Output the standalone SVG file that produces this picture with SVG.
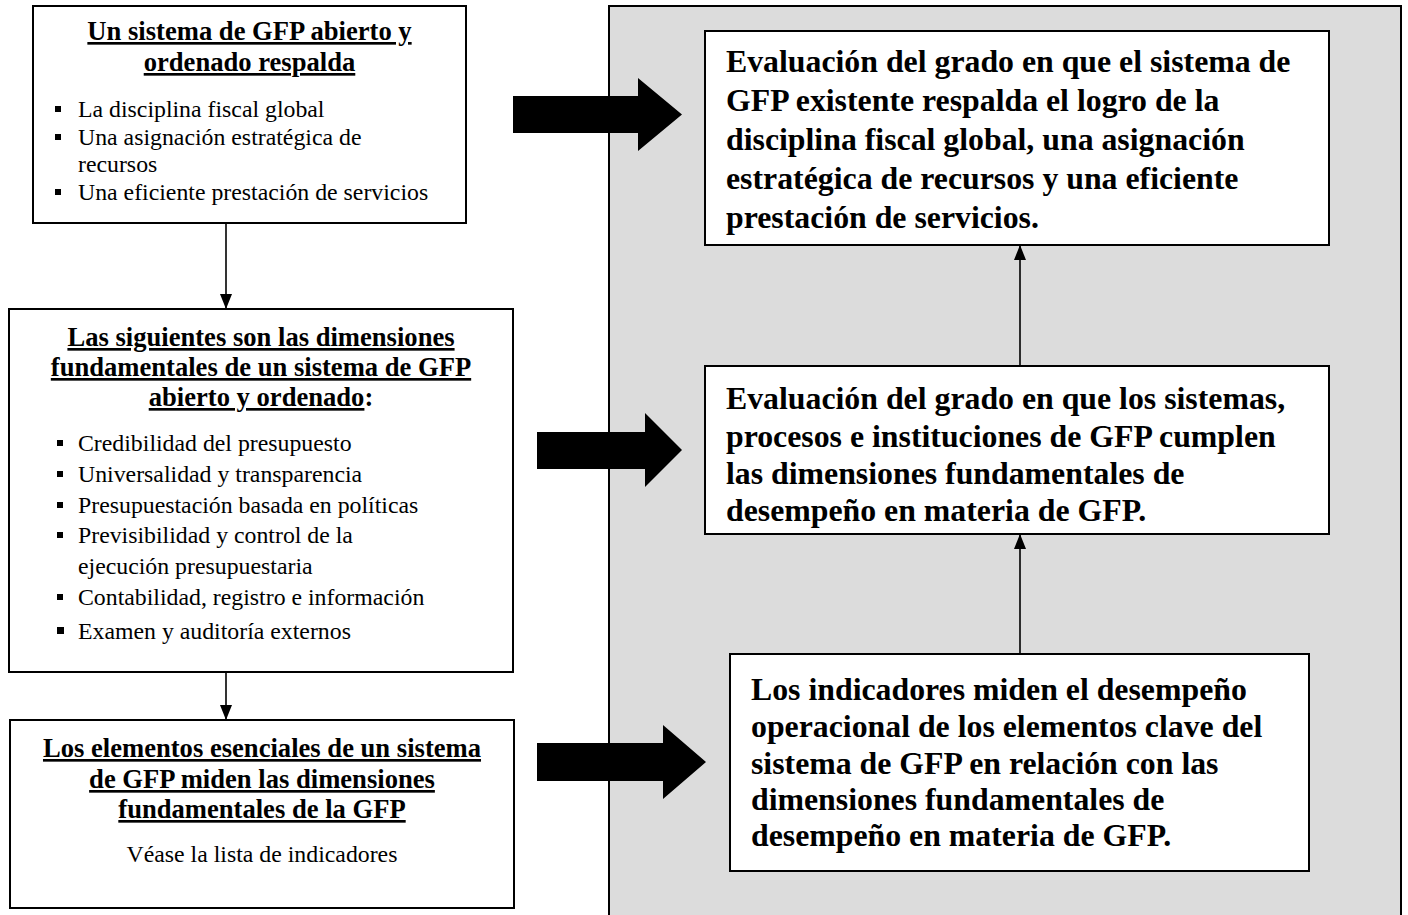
<svg xmlns="http://www.w3.org/2000/svg" width="1408" height="915" viewBox="0 0 1408 915">
<style>
.box{fill:#fff;stroke:#000;stroke-width:2}
.panel{fill:#dcdcdc;stroke:#000;stroke-width:2}
.t{font-family:"Liberation Serif","Times New Roman",serif;fill:#000}
.h{font-size:26.6px;font-weight:bold;text-anchor:middle}
.u{text-decoration:underline}
.b{font-size:23.8px}
.r{font-size:31.8px;font-weight:bold}
.conn{stroke:#000;stroke-width:1.6;fill:none}
.big{fill:#000}
</style>
<defs>
<marker id="ah" markerUnits="userSpaceOnUse" markerWidth="15" markerHeight="12" refX="15" refY="6" orient="auto" viewBox="0 0 15 12">
<path d="M0,0 L15,6 L0,12 Z" fill="#000"/>
</marker>
</defs>

<rect class="panel" x="609" y="6" width="792" height="930"/>

<g id="connectors">
<line class="conn" x1="226" y1="223" x2="226" y2="309" marker-end="url(#ah)"/>
<line class="conn" x1="226" y1="672" x2="226" y2="720" marker-end="url(#ah)"/>
<line class="conn" x1="1020" y1="366" x2="1020" y2="245" marker-end="url(#ah)"/>
<line class="conn" x1="1020" y1="654" x2="1020" y2="534" marker-end="url(#ah)"/>
<polygon class="big" points="513,96 638,96 638,78 682,114.5 638,151 638,133 513,133"/>
<polygon class="big" points="537,432 645,432 645,413 682,450 645,487 645,469 537,469"/>
<polygon class="big" points="537,743 663,743 663,725 706,762 663,799 663,781 537,781"/>
</g>

<g id="node-tl">
<rect class="box" x="33" y="6" width="433" height="217"/>
<text class="t h u" x="249.5" y="40">Un sistema de GFP abierto y</text>
<text class="t h u" x="249.5" y="71">ordenado respalda</text>
<rect x="55" y="106" width="6" height="6"/>
<rect x="55" y="134" width="6" height="6"/>
<rect x="55" y="189" width="6" height="6"/>
<text class="t b" x="78" y="117">La disciplina fiscal global</text>
<text class="t b" x="78" y="145">Una asignación estratégica de</text>
<text class="t b" x="78" y="172">recursos</text>
<text class="t b" x="78" y="200">Una eficiente prestación de servicios</text>
</g>

<g id="node-ml">
<rect class="box" x="9" y="309" width="504" height="363"/>
<text class="t h u" x="261" y="346">Las siguientes son las dimensiones</text>
<text class="t h u" x="261" y="376">fundamentales de un sistema de GFP</text>
<text class="t h" x="261" y="406"><tspan class="u">abierto y ordenado</tspan>:</text>
<rect x="57" y="440" width="6" height="6"/>
<rect x="57" y="471" width="6" height="6"/>
<rect x="57" y="502" width="6" height="6"/>
<rect x="57" y="532" width="6" height="6"/>
<rect x="57" y="594" width="6" height="6"/>
<rect x="57" y="627" width="7" height="7"/>
<text class="t b" x="78" y="451">Credibilidad del presupuesto</text>
<text class="t b" x="78" y="482">Universalidad y transparencia</text>
<text class="t b" x="78" y="513">Presupuestación basada en políticas</text>
<text class="t b" x="78" y="543">Previsibilidad y control de la</text>
<text class="t b" x="78" y="574">ejecución presupuestaria</text>
<text class="t b" x="78" y="605">Contabilidad, registro e información</text>
<text class="t b" x="78" y="639">Examen y auditoría externos</text>
</g>

<g id="node-bl">
<rect class="box" x="10" y="720" width="504" height="188"/>
<text class="t h u" x="262" y="757">Los elementos esenciales de un sistema</text>
<text class="t h u" x="262" y="788">de GFP miden las dimensiones</text>
<text class="t h u" x="262" y="818">fundamentales de la GFP</text>
<text class="t b" x="262" y="862" text-anchor="middle">Véase la lista de indicadores</text>
</g>

<g id="node-tr">
<rect class="box" x="705" y="31" width="624" height="214"/>
<text class="t r" x="726" y="72">Evaluación del grado en que el sistema de</text>
<text class="t r" x="726" y="111">GFP existente respalda el logro de la</text>
<text class="t r" x="726" y="150">disciplina fiscal global, una asignación</text>
<text class="t r" x="726" y="189">estratégica de recursos y una eficiente</text>
<text class="t r" x="726" y="228">prestación de servicios.</text>
</g>

<g id="node-mr">
<rect class="box" x="705" y="366" width="624" height="168"/>
<text class="t r" x="726" y="409">Evaluación del grado en que los sistemas,</text>
<text class="t r" x="726" y="446.5">procesos e instituciones de GFP cumplen</text>
<text class="t r" x="726" y="484">las dimensiones fundamentales de</text>
<text class="t r" x="726" y="521">desempeño en materia de GFP.</text>
</g>

<g id="node-br">
<rect class="box" x="730" y="654" width="579" height="217"/>
<text class="t r" x="751" y="700">Los indicadores miden el desempeño</text>
<text class="t r" x="751" y="737">operacional de los elementos clave del</text>
<text class="t r" x="751" y="773.5">sistema de GFP en relación con las</text>
<text class="t r" x="751" y="810">dimensiones fundamentales de</text>
<text class="t r" x="751" y="846">desempeño en materia de GFP.</text>
</g>
</svg>
